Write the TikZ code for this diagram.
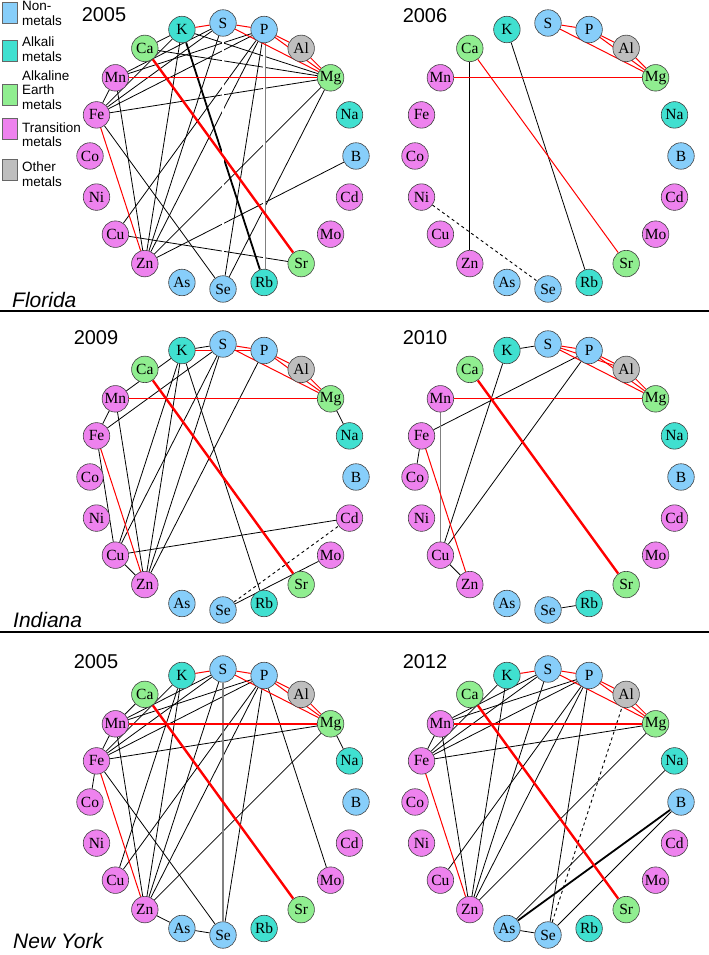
\documentclass[tikz,border=0pt]{standalone}
\usepackage{fontspec}
\setmainfont{Liberation Serif}
\newfontfamily\labelsans{Liberation Sans}
\usepackage{tikz}
\usetikzlibrary{backgrounds,positioning}

\definecolor{nonmetal}{RGB}{135,206,250}
\definecolor{alkali}{RGB}{64,224,208}
\definecolor{earth}{RGB}{144,238,144}
\definecolor{transit}{RGB}{238,130,238}
\definecolor{othermetal}{RGB}{190,190,190}

\tikzset{
  elem/.style={circle, draw=black!75, line width=0.6bp, minimum size=26.5bp, inner sep=0pt,
    font=\fontsize{15.5bp}{17bp}\selectfont},
  poscor/.style={red, line width=1bp},
  poscormid/.style={red, line width=1.6bp},
  poscorthick/.style={red, line width=2.4bp},
  negcor/.style={black, line width=0.8bp},
  negcorthick/.style={black, line width=1.8bp},
  twincor/.style={draw=gray, double=white, double distance=1.4bp, line width=0.7bp},
  greycor/.style={gray, line width=1.3bp},
  unsurecor/.style={black, dashed, line width=0.9bp},
  year/.style={font=\labelsans\fontsize{20bp}{22bp}\selectfont},
  state/.style={font=\labelsans\itshape\fontsize{21bp}{23bp}\selectfont, anchor=west, inner sep=0pt},
  key/.style={draw=black!60, line width=0.5bp, minimum width=15bp, minimum height=21bp, inner sep=0pt},
  keytext/.style={font=\labelsans\fontsize{13.5bp}{14.5bp}\selectfont, align=left, anchor=west, inner sep=0pt},
}

% ring of the 20 elements: #1 prefix, (#2,#3) centre
\newcommand{\elemring}[3]{%
  \begin{scope}[shift={(#2,#3)}]
    \foreach \el/\ang/\col in {S/90/nonmetal, P/72/nonmetal, Al/54/othermetal, Mg/36/earth,
        Na/18/alkali, B/0/nonmetal, Cd/-18/transit, Mo/-36/transit, Sr/-54/earth,
        Rb/-72/alkali, Se/-90/nonmetal, As/-108/nonmetal, Zn/-126/transit, Cu/-144/transit,
        Ni/-162/transit, Co/180/transit, Fe/162/transit, Mn/144/transit, Ca/126/earth, K/108/alkali}
      \node[elem, fill=\col] (#1\el) at (\ang:133) {\el};
  \end{scope}}

% correlations: #1 prefix, #2 style, #3 pairs
\newcommand{\bonds}[3]{\foreach \ea/\eb in {#3} \draw[#2] (#1\ea) -- (#1\eb);}

\begin{document}
\begin{tikzpicture}[x=1bp, y=1bp]
\useasboundingbox (0,0) rectangle (709,955);

% legend
\node[key, fill=nonmetal] (knon) at (9.5,942.5) {};
\node[key, fill=alkali] (kalk) at (9.5,904) {};
\node[key, fill=earth] (kear) at (9.5,860) {};
\node[key, fill=transit] (ktra) at (9.5,826.5) {};
\node[key, fill=othermetal] (koth) at (9.5,785) {};
\node[keytext] (tnon) at (22,941.5) {Non-\\metals};
\node[keytext] (talk) at (22,906) {Alkali\\metals};
\node[keytext] (tear) at (22,865) {Alkaline\\Earth\\metals};
\node[keytext] (ttra) at (22,820.5) {Transition\\metals};
\node[keytext] (toth) at (22,781) {Other\\metals};

% panels
\elemring{fa}{223}{799}
\elemring{fb}{548}{799}
\elemring{ia}{223}{478}
\elemring{ib}{548}{478}
\elemring{na}{223}{153}
\elemring{nb}{548}{153}

\node[year] (yfa) at (104,940) {2005};
\node[year] (yfb) at (425,939) {2006};
\node[year] (yia) at (96,617) {2009};
\node[year] (yib) at (425,617) {2010};
\node[year] (yna) at (96,293) {2005};
\node[year] (ynb) at (425,293) {2012};

\node[state] (florida) at (12,655) {Florida};
\node[state] (indiana) at (13,335) {Indiana};
\node[state] (newyork) at (13,14) {New York};

\draw[line width=2.5bp] (0,644) -- (709,644);
\draw[line width=2.5bp] (0,323) -- (709,323);

\begin{scope}[on background layer]
  % Florida 2005
  \bonds{fa}{negcor}{Ca/K, Ca/Mg, K/Mg, K/Fe, K/Zn, S/Mn, S/Fe, S/Zn, P/Mn, P/Fe, P/Zn, P/Cu, P/Se,
    Mn/Fe, Mn/Zn, Fe/Mg, Fe/Se, Zn/Mg, Zn/B, Cu/Sr, Se/Mg}
  \bonds{fa}{negcorthick}{K/Rb}
  \bonds{fa}{twincor}{S/Se, P/Rb}
  \bonds{fa}{poscor}{K/S, S/P, S/Mg, P/Al, P/Mg, Al/Mg, Mn/Mg, Fe/Zn}
  \bonds{fa}{poscorthick}{Ca/Sr}
  % Florida 2006
  \bonds{fb}{negcor}{Ca/Zn, K/Rb}
  \bonds{fb}{unsurecor}{Ni/Se}
  \bonds{fb}{poscor}{S/P, S/Mg, P/Al, P/Mg, Al/Mg, Mn/Mg, Ca/Sr}
  % Indiana 2009
  \bonds{ia}{negcor}{K/S, Mg/Na, Mn/K, Mn/Fe, Mn/Zn, Fe/S, Fe/Cu, Cu/Zn, Cu/K, Cu/S, Cu/Cd,
    Zn/K, Zn/S, Zn/P, K/Rb, Se/Mo}
  \bonds{ia}{unsurecor}{Se/Cd}
  \bonds{ia}{poscor}{K/P, S/P, S/Mg, P/Al, P/Mg, Al/Mg, Mn/Mg, Fe/Zn}
  \bonds{ia}{poscorthick}{Ca/Sr}
  % Indiana 2010
  \bonds{ib}{negcor}{K/S, Fe/P, Fe/Co, Cu/K, Cu/P, Cu/Zn, Se/Rb}
  \bonds{ib}{greycor}{Mn/Cu}
  \bonds{ib}{poscor}{S/P, S/Al, S/Mg, P/Al, P/Mg, Al/Mg, Mn/Mg, Fe/Zn}
  \bonds{ib}{poscorthick}{Ca/Sr}
  % New York 2005
  \bonds{na}{negcor}{Ca/Mn, Mn/Fe, Fe/Co, Mg/Na, Zn/As, As/Se, Mn/S, Mn/P, Fe/K, Fe/S, Fe/P,
    Fe/Mg, Fe/Se, Mn/Zn, Zn/K, Zn/S, Zn/P, Zn/Mg, Cu/K, Cu/P, Se/P, P/Mo}
  \bonds{na}{greycor}{S/Se}
  \bonds{na}{poscor}{K/S, S/P, S/Mg, P/Al, P/Mg, Al/Mg, Fe/Zn}
  \bonds{na}{poscormid}{Mn/Mg}
  \bonds{na}{poscorthick}{Ca/Sr}
  % New York 2012
  \bonds{nb}{negcor}{Mn/S, Mn/P, Mn/Fe, Mn/Zn, Fe/K, Fe/S, Fe/P, Fe/Mg, Cu/P, Zn/K, Zn/S, Zn/P,
    Zn/Mg, As/Na, As/Se, Se/B, Se/P}
  \bonds{nb}{negcorthick}{As/B}
  \bonds{nb}{unsurecor}{Se/Al}
  \bonds{nb}{poscor}{K/S, S/P, S/Mg, P/Al, P/Mg, Al/Mg, Fe/Zn}
  \bonds{nb}{poscormid}{Mn/Mg}
  \bonds{nb}{poscorthick}{Ca/Sr}
\end{scope}
\end{tikzpicture}
\end{document}
